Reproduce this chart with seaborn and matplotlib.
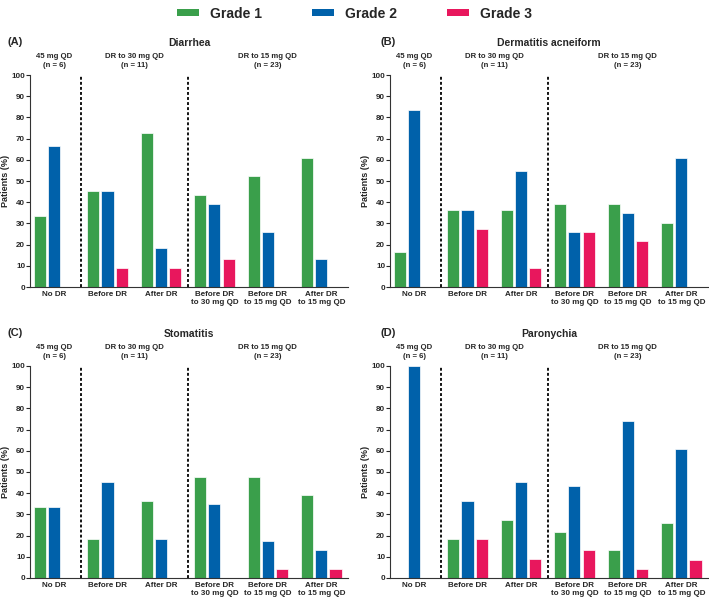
import matplotlib
matplotlib.use('Agg')
import pandas as pd
import numpy as np
import matplotlib.pyplot as plt
import matplotlib.transforms as mtransforms
from matplotlib.patches import Patch
import seaborn as sns

sns.set_style('ticks')
plt.rcParams['font.family'] = ['Liberation Sans', 'DejaVu Sans']
plt.rcParams['font.weight'] = 'bold'

# Data (% of patients)
categories = ['No DR', 'Before DR', 'After DR',
              'Before DR\nto 30 mg QD', 'Before DR\nto 15 mg QD', 'After DR\nto 15 mg QD']
grades = ['Grade 1', 'Grade 2', 'Grade 3']
colors = ['#3a9f4b', '#0061aa', '#e8175d']
group_labels = ['45 mg QD\n(n = 6)', 'DR to 30 mg QD\n(n = 11)', 'DR to 15 mg QD\n(n = 23)']

diarrhea_g1 = [33.3, 45.5, 72.7, 43.5, 52.2, 60.9]
diarrhea_g2 = [66.7, 45.5, 18.2, 39.1, 26.1, 13.0]
diarrhea_g3 = [0, 9.1, 9.1, 13.0, 0, 0]

dermatitis_g1 = [16.7, 36.4, 36.4, 39.1, 39.1, 30.4]
dermatitis_g2 = [83.3, 36.4, 54.5, 26.1, 34.8, 60.9]
dermatitis_g3 = [0, 27.3, 9.1, 26.1, 21.7, 0]

stomatitis_g1 = [33.3, 18.2, 36.4, 47.8, 47.8, 39.1]
stomatitis_g2 = [33.3, 45.5, 18.2, 34.8, 17.4, 13.0]
stomatitis_g3 = [0, 0, 0, 0, 4.3, 4.3]

paronychia_g1 = [0, 18.2, 27.3, 21.7, 13.0, 26.1]
paronychia_g2 = [100, 36.4, 45.5, 43.5, 73.9, 60.9]
paronychia_g3 = [0, 18.2, 9.1, 13.0, 4.3, 8.7]

panels = [
    ('(A)', 'Diarrhea', diarrhea_g1, diarrhea_g2, diarrhea_g3, [30, 75], 7),
    ('(B)', 'Dermatitis acneiform', dermatitis_g1, dermatitis_g2, dermatitis_g3, [390, 75], 380),
    ('(C)', 'Stomatitis', stomatitis_g1, stomatitis_g2, stomatitis_g3, [30, 366], 7),
    ('(D)', 'Paronychia', paronychia_g1, paronychia_g2, paronychia_g3, [390, 366], 380),
]

W, H = 709, 601
fig = plt.figure(figsize=(W / 100, H / 100), dpi=100)

for label, title, g1, g2, g3, (px, py), lx in panels:
    ax = fig.add_axes([px / W, 1 - (py + 212) / H, 318 / W, 212 / H])
    df = pd.DataFrame({
        'cat': categories * 3,
        'grade': np.repeat(grades, len(categories)),
        'pct': g1 + g2 + g3,
    })
    sns.barplot(data=df, x='cat', y='pct', hue='grade', order=categories,
                hue_order=grades, palette=colors, saturation=1, width=0.8, gap=0.15,
                edgecolor='white', linewidth=0.5, legend=False, ax=ax)
    ax.set_xlim(-0.45, 5.5)
    ax.set_ylim(0, 100)
    ax.set_yticks(range(0, 101, 10))
    ax.tick_params(axis='x', length=0, labelsize=5.8, pad=3)
    ax.tick_params(axis='y', length=3, width=0.8, labelsize=5.8, pad=0.5)
    for t in ax.get_xticklabels() + ax.get_yticklabels():
        t.set_fontweight('bold')
    for t in ax.get_xticklabels():
        t.set_linespacing(1.25)
    ax.set_xlabel('')
    ax.set_ylabel('Patients (%)', fontsize=6.5, fontweight='bold', labelpad=1)
    sns.despine(ax=ax)
    for s in ['left', 'bottom']:
        ax.spines[s].set_linewidth(0.8)
        ax.spines[s].set_color('#333333')

    ax.vlines([0.5, 2.5], 0, 100, colors='black', linestyles=(0, (1.6, 1.2)), lw=1.3)

    trans = mtransforms.blended_transform_factory(ax.transData, ax.transAxes)
    for gx, gl in zip([0, 1.5, 4], group_labels):
        ax.text(gx, 1.03, gl, transform=trans, ha='center', va='bottom',
                fontsize=5.6, fontweight='bold', linespacing=1.25)
    ax.text(0.5, 1.15, title, transform=ax.transAxes, ha='center', va='center',
            fontsize=7.5, fontweight='bold')
    fig.text(lx / W, 1 - (py - 33) / H, label, ha='left', va='center',
             fontsize=8, fontweight='bold')

handles = [Patch(facecolor=c, edgecolor='none') for c in colors]
fig.legend(handles, grades, loc='upper center', bbox_to_anchor=(0.5, 1.0),
           ncol=3, frameon=False, borderaxespad=0.1, handlelength=1.6,
           handleheight=0.4, handletextpad=0.8, columnspacing=3.6,
           prop={'size': 10, 'weight': 'bold'})

fig.savefig('out.png', dpi=100)
